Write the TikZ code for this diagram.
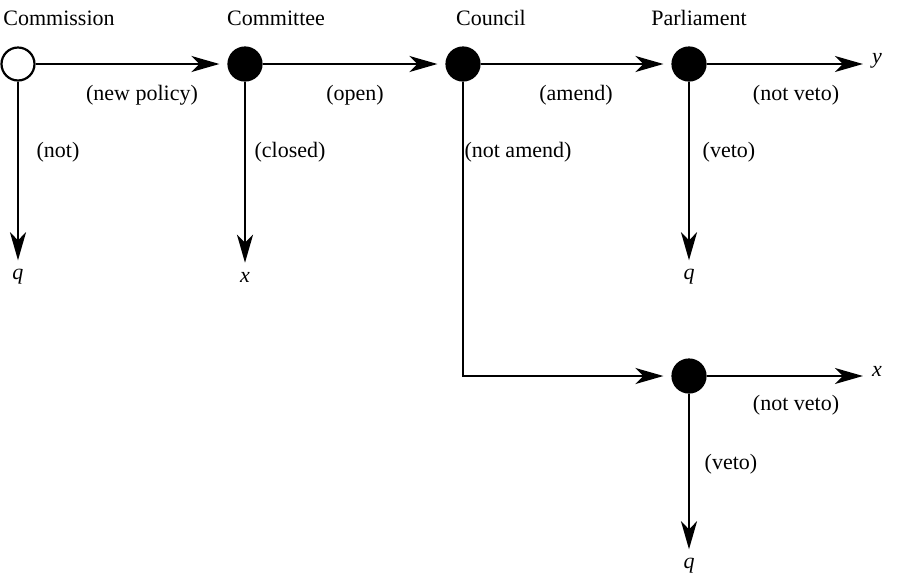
\documentclass[tikz,border=0pt]{standalone}
\usepackage{fontspec}
\setmainfont{Liberation Serif}
\usetikzlibrary{arrows.meta}
\begin{document}
\begin{tikzpicture}[x=1pt,y=-1pt,
  every node/.style={font=\fontsize{22}{26}\selectfont},
  chance/.style={circle,draw,line width=2.2pt,minimum size=33pt,inner sep=0pt},
  player/.style={circle,fill=black,draw,line width=2.2pt,minimum size=33pt,inner sep=0pt},
  term/.style={inner sep=9pt,font=\fontsize{22}{26}\selectfont\itshape},
  conn/.style={line width=2.2pt,-{Stealth[length=28pt,width=16pt,inset=8pt]}},
  title/.style={anchor=base},
  lab/.style={}
]
\useasboundingbox (0,0) rectangle (917,574);
\node[chance] (cm) at (18,64) {};
\node[player] (ct) at (245,64) {};
\node[player] (co) at (463,64) {};
\node[player] (pa) at (689,64) {};
\node[player] (pb) at (689,376) {};

\node[title] (t1) at (59,25) {Commission};
\node[title] (t2) at (276,25) {Committee};
\node[title] (t3) at (491,25) {Council};
\node[title] (t4) at (699,25) {Parliament};

\node[term] (q1) at (18,277) {q};
\node[term] (x1) at (245,277) {x};
\node[term] (q2) at (689,277) {q};
\node[term] (y1) at (877,61) {y};
\node[term] (x2) at (877,371) {x};
\node[term] (q3) at (689,566) {q};

\draw[conn,shorten >=8pt] (cm) -- (ct);
\draw[conn,shorten >=8pt] (ct) -- (co);
\draw[conn,shorten >=8pt] (co) -- (pa);
\draw[conn] (pa) -- (y1.west |- pa);
\draw[conn] (cm) -- (q1);
\draw[conn] (ct) -- (x1);
\draw[conn] (pa) -- (q2);
\draw[conn,shorten >=8pt] (co) |- (pb);
\draw[conn] (pb) -- (x2.west |- pb);
\draw[conn] (pb) -- (q3);

\node[lab] (l1) at (142,95) {(new policy)};
\node[lab] (l2) at (355,95) {(open)};
\node[lab] (l3) at (576,95) {(amend)};
\node[lab] (l4) at (796,95) {(not veto)};
\node[lab] (l5) at (58,152) {(not)};
\node[lab] (l6) at (290,152) {(closed)};
\node[lab] (l7) at (518,152) {(not amend)};
\node[lab] (l8) at (729,152) {(veto)};
\node[lab] (l9) at (796,405) {(not veto)};
\node[lab] (l10) at (731,464) {(veto)};
\end{tikzpicture}
\end{document}
